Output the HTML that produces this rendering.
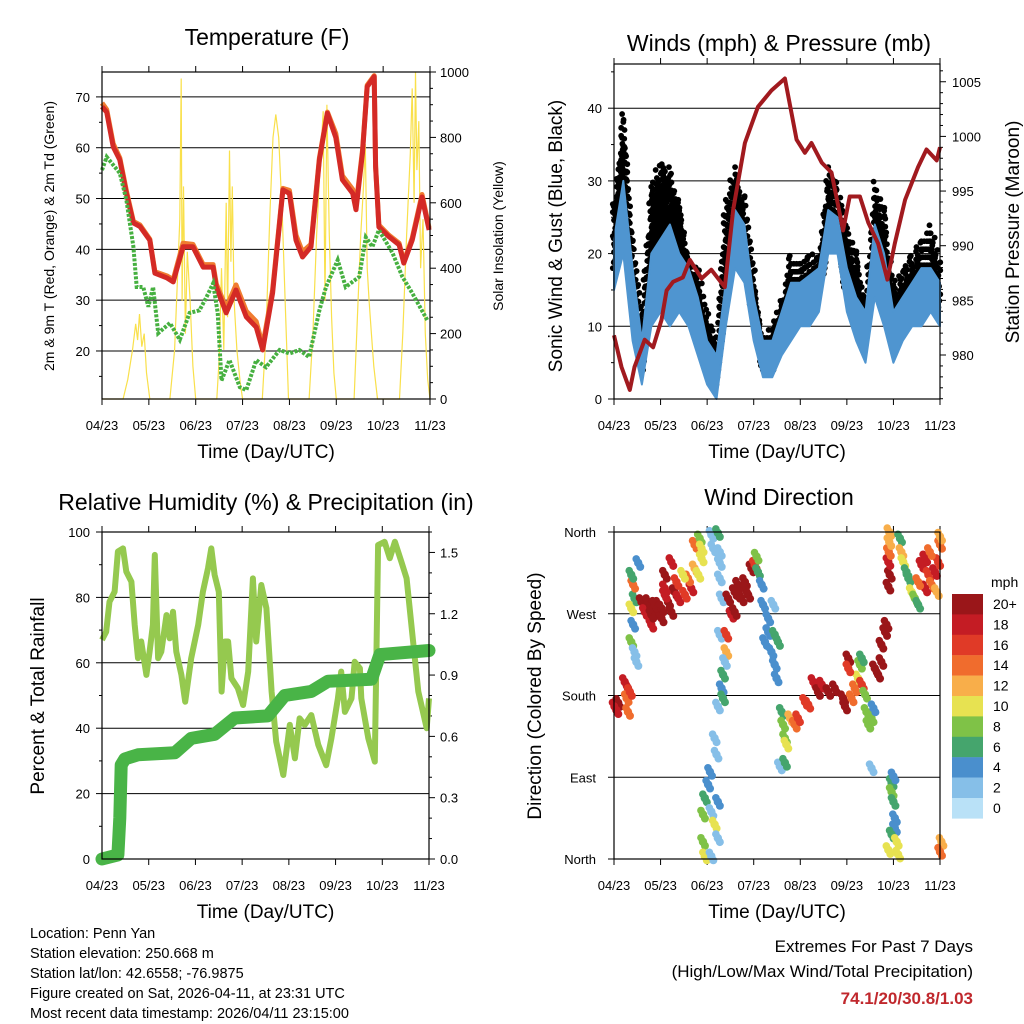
<!DOCTYPE html>
<html><head><meta charset="utf-8"><style>
html,body{margin:0;padding:0;background:#fff;}
svg{display:block;font-family:"Liberation Sans",sans-serif;}
</style></head><body>
<svg id="c" width="1024" height="1024" viewBox="0 0 1024 1024"></svg>
<script>
// ---------- DATA ----------
const tempDays=[0,0.10,0.24,0.38,0.52,0.67,0.81,1.02,1.13,1.38,1.52,1.73,1.94,2.16,2.37,2.44,2.65,2.86,3.08,3.29,3.43,3.64,3.86,4.0,4.14,4.28,4.46,4.64,4.81,4.99,5.13,5.35,5.42,5.56,5.66,5.81,5.84,5.91,6.12,6.34,6.44,6.62,6.83,6.98];
const tempRed=[68.1,67,60.2,57.6,51,45.2,44.5,41.8,35.3,34.4,33.6,40.5,40.5,36.5,36.5,32.6,27.5,32,26.7,24.7,20.2,31.4,51.7,51,41.8,38.5,40.5,57.6,66.8,62,53.7,51,47.8,59,72,74,56.2,44.4,42.5,40.9,37.3,41.8,50.3,43.8];
const tempOrange=[68.8,67.5,60.8,58,51.5,45.5,44.8,42,35.6,34.8,34,41.2,41,37,37,33.2,28.5,33,27.8,25.8,21,32,52,51.6,42.8,39.5,41,58,67,62.8,54.5,51.8,48.5,59.5,72.3,74.2,56.5,44.8,42.8,41.2,37.6,42.2,50.8,44.2];
const dewDays=[0,0.10,0.38,0.52,0.67,0.74,0.88,0.99,1.09,1.2,1.45,1.66,1.87,2.08,2.23,2.37,2.47,2.55,2.72,2.94,3.08,3.29,3.5,3.79,4.0,4.21,4.42,4.64,4.78,5.03,5.2,5.49,5.63,5.77,5.91,6.2,6.41,6.62,6.94];
const dewVals=[55.6,58.2,55,49.7,40.5,32.6,32.6,28.7,32.6,23.5,25.5,22.2,27.5,28,30.6,33.3,27.5,14.2,18.2,12.9,12.3,18.2,16.8,20.2,19.5,20.2,18.8,28,32.6,37.9,32.6,34.6,42.4,40.5,43.8,39.3,34.6,31.4,26.1];
const solarDays=[0,0.45,0.55,0.65,0.72,0.76,0.8,0.85,0.9,0.95,1.02,1.45,1.55,1.62,1.66,1.69,1.71,1.74,1.78,1.82,1.88,1.94,2.0,2.45,2.5,2.55,2.6,2.65,2.68,2.72,2.75,2.78,2.82,2.88,2.95,3.0,3.42,3.5,3.58,3.65,3.71,3.77,3.85,3.92,3.98,4.42,4.5,4.58,4.65,4.72,4.76,4.8,4.85,4.9,4.95,5.0,5.38,5.45,5.52,5.58,5.62,5.66,5.7,5.75,5.8,5.88,6.35,6.42,6.5,6.58,6.62,6.66,6.69,6.72,6.76,6.8,6.85,6.9,6.95,7.0];
const solarVals=[0,0,60,150,230,180,260,160,200,80,0,0,150,400,550,980,300,650,200,450,300,100,0,0,120,400,150,600,250,760,420,650,300,150,50,0,0,200,550,800,870,800,550,250,0,0,200,500,700,880,300,900,500,250,80,0,0,250,500,650,780,400,300,200,100,0,0,200,500,750,950,600,1000,700,850,400,550,200,60,0];
const windDays=[0,0.2,0.4,0.6,0.8,1.0,1.2,1.4,1.6,1.8,2.0,2.2,2.4,2.6,2.8,3.0,3.2,3.4,3.6,3.8,4.0,4.2,4.4,4.6,4.8,5.0,5.2,5.4,5.6,5.8,6.0,6.2,6.4,6.6,6.8,7.0];
const windLo=[15,20,8,2,10,12,10,12,10,6,2,0,10,18,16,8,3,3,6,8,10,10,12,20,20,12,8,5,14,10,5,8,10,10,12,10];
const windHi=[22,30,18,8,20,22,24,20,18,14,8,6,16,26,24,14,8,8,12,16,16,17,18,26,25,18,14,12,24,20,12,14,16,18,18,16];
const gustVals=[27,40,22,12,30,33,32,28,20,18,12,8,28,32,28,18,9,10,14,20,19,20,20,32,30,24,20,14,30,26,16,18,20,22,24,19];
const presDays=[0,0.16,0.34,0.44,0.66,0.84,1.02,1.13,1.27,1.48,1.63,1.88,2.09,2.38,2.56,2.81,3.09,3.38,3.67,3.92,4.1,4.24,4.46,4.67,4.92,5.06,5.28,5.46,5.67,5.87,6.03,6.25,6.53,6.71,6.93,7.0];
const presVals=[981.8,978.9,976.8,978.9,981.4,980.7,983.2,985.9,986.7,987.1,988.7,987,987.8,986.2,993.3,999.4,1002.7,1004.2,1005.3,999.7,998.5,999.4,997.6,996.7,991.4,994.5,994.5,992.1,990.2,986.9,990.2,994.2,997.2,998.8,997.8,999];
const rhDays=[0,0.09,0.16,0.27,0.34,0.45,0.52,0.63,0.70,0.77,0.84,0.95,1.02,1.09,1.13,1.20,1.27,1.38,1.45,1.52,1.59,1.70,1.78,1.91,2.06,2.16,2.27,2.34,2.41,2.50,2.56,2.63,2.70,2.77,2.91,3.02,3.13,3.23,3.30,3.41,3.52,3.63,3.73,3.88,4.02,4.13,4.23,4.34,4.48,4.63,4.80,4.91,5.05,5.12,5.20,5.34,5.41,5.52,5.55,5.70,5.84,5.91,6.05,6.16,6.27,6.41,6.52,6.66,6.77,6.95,7.0];
const rhVals=[67,69.5,78.7,81.7,94,95,87.9,84.8,71.6,61.4,66.5,56.3,63.4,71.6,93,61.4,63.4,74.6,67.5,75.6,63.4,56.3,48.1,61.4,71.6,81.7,88.9,95,86.9,81.7,51.2,66.5,66.5,55.3,52.2,47.1,57.3,85.8,66.5,83.8,76.7,51.2,35.9,25.7,41,30.8,43,41,44,34.9,28.7,36.9,49.1,57.3,45,49.1,60.3,58.3,49.1,36.9,29.8,96,97,92,97,90.9,85.8,66.5,51.2,40,49.1];
const precipDays=[0,0.34,0.38,0.41,0.49,0.77,1.56,1.91,2.41,2.84,3.55,3.91,4.48,4.84,5.77,5.95,7.0];
const precipVals=[0,0.02,0.2,0.46,0.49,0.51,0.52,0.59,0.61,0.69,0.70,0.80,0.82,0.87,0.88,1.0,1.02];
const dirDays=[];const dirVals=[];const dirSpeeds=[];
const dirRaw=[[30,545,18],[40,535,19],[35,555,17],[60,470,17],[70,490,18],[65,520,14],[70,560,13],[75,500,16],[80,350,8],[85,300,4],[90,380,2],[95,410,2],[80,250,10],[90,220,6],[85,180,14],[80,150,6],[100,115,4],[110,230,19],[130,250,19],[150,260,19],[170,280,19],[140,300,18],[160,240,20],[190,230,19],[200,260,20],[120,260,18],[180,210,18],[210,200,20],[220,220,18],[240,210,16],[260,190,18],[250,160,14],[270,130,12],[280,150,10],[235,150,10],[270,60,13],[285,40,8],[290,70,10],[180,150,20],[200,110,18],[215,170,16],[180,190,18],[290,100,10],[130,230,20],[150,240,20],[140,270,20],[170,250,19],[320,30,2],[340,25,6],[325,70,2],[345,80,2],[345,115,1],[345,160,1],[350,220,2],[345,330,1],[365,330,16],[365,380,12],[360,410,2],[355,450,6],[350,490,4],[355,520,6],[340,545,1],[330,640,2],[335,690,1],[315,740,4],[310,780,4],[300,820,6],[295,870,8],[320,860,2],[330,900,10],[340,940,2],[295,950,8],[300,995,10],[320,995,1],[340,830,4],[370,220,20],[390,200,20],[400,180,20],[420,170,20],[440,130,19],[430,210,20],[380,270,18],[390,260,19],[410,220,20],[420,190,20],[400,210,20],[450,120,16],[455,95,7],[460,140,5],[470,180,4],[475,240,4],[490,280,4],[505,240,2],[490,320,4],[510,330,6],[520,350,6],[480,350,3],[500,380,4],[510,420,4],[515,460,4],[530,560,6],[535,600,8],[540,640,8],[545,660,10],[555,580,12],[570,600,14],[580,580,16],[600,530,15],[610,540,16],[625,470,17],[640,500,19],[650,480,18],[670,500,20],[690,490,20],[715,520,20],[720,545,20],[740,520,13],[750,490,14],[760,460,10],[770,480,15],[765,420,8],[770,400,6],[780,510,8],[785,560,8],[790,600,8],[800,580,7],[805,550,4],[800,730,2],[525,725,2],[540,715,6],[730,400,20],[730,430,16],[810,430,20],[820,450,19],[830,410,20],[830,360,19],[840,320,20],[845,300,20],[850,185,20],[855,150,19],[850,110,18],[852,80,14],[853,50,12],[853,20,12],[885,40,6],[890,80,12],[895,110,10],[905,140,6],[910,160,6],[920,200,10],[930,220,8],[940,240,6],[950,120,18],[960,100,18],[970,150,16],[980,180,14],[990,140,18],[1000,110,16],[1005,60,14],[1005,35,12],[995,200,12],[960,190,18],[975,80,14],[940,170,14],[860,775,6],[865,755,4],[860,800,8],[865,830,6],[870,880,4],[870,910,4],[860,930,6],[875,950,10],[880,990,10],[850,975,10],[1010,950,12],[1005,980,14]];
dirRaw.forEach(r=>{dirDays.push(Math.round((r[0]-28)/139.6*100)/100);dirVals.push(Math.round(360*(1003-r[1])/982));dirSpeeds.push(r[2]);});
const xTickLabels=["04/23","05/23","06/23","07/23","08/23","09/23","10/23","11/23"];
const speedColors=["#b9e1f7","#86bfe8","#4a8fcd","#45a56d","#7fc247","#e7e251","#f8ae4a","#f06c2d","#e03a27","#c41c24","#9a1619"];
const speedLabels=["0","2","4","6","8","10","12","14","16","18","20+"];

// ---------- helpers ----------
const svg=document.getElementById('c');const NS="http://www.w3.org/2000/svg";
function mk(tag,attrs,parent){const e=document.createElementNS(NS,tag);for(const k in attrs)e.setAttribute(k,attrs[k]);(parent||svg).appendChild(e);return e;}
function txt(s,x,y,size,anchor,parent,extra){const t=mk('text',Object.assign({x:x,y:y,'font-size':size,'text-anchor':anchor||'middle',fill:'#000'},extra||{}),parent);t.textContent=s;return t;}
function lin(d0,d1,r0,r1){return v=>r0+(v-d0)/(d1-d0)*(r1-r0);}

function frame(name,x0,x1,y0,y1,title,tx,ty,xlabY){
  const g=mk('g',{});
  const tt=txt(title,tx,ty,23,'middle',g);
  const xs=lin(0,7,x0,x1);
  for(let i=0;i<8;i++){const x=xs(i);mk('line',{x1:x,x2:x,y1:y1,y2:y1+6,stroke:'#000'},g);mk('line',{x1:x,x2:x,y1:y0,y2:y0-6,stroke:'#000'},g);
    const l=txt(xTickLabels[i],x,xlabY,13,'middle',g);}
  const xt=txt('Time (Day/UTC)',(x0+x1)/2,xlabY+28,19,'middle',g);
  return {g,xs};
}
function border(g,x0,x1,y0,y1){mk('rect',{x:x0,y:y0,width:x1-x0,height:y1-y0,fill:'none',stroke:'#000','stroke-width':1.2},g);}
function path(xsA,ysA,xs,ys){return xsA.map((d,i)=>(i?'L':'M')+xs(d).toFixed(1)+','+ys(ysA[i]).toFixed(1)).join('');}
function vtitle(s,x,y,size,g,name){const t=txt(s,x,y,size,'middle',g,{transform:'rotate(-90 '+x+' '+y+')'});}

// ---------- Panel 1: Temperature ----------
(function(){
 const x0=102,x1=430,y0=72,y1=399;
 const f=frame('temperature-panel',x0,x1,y0,y1,'Temperature (F)',267,45,430);const g=f.g,xs=f.xs;
 const ys=lin(10.55,74.9,y1,y0), yr=lin(0,1000,y1,y0);
 [20,30,40,50,60,70].forEach(v=>{mk('line',{x1:x0,x2:x1,y1:ys(v),y2:ys(v),stroke:'#000','stroke-width':1},g);mk('line',{x1:x0-6,x2:x0,y1:ys(v),y2:ys(v),stroke:'#000'},g);
   const l=txt(String(v),x0-12,ys(v)+5,13,'end',g);});
 [15,25,35,45,55,65].forEach(v=>mk('line',{x1:x0-3,x2:x0,y1:ys(v),y2:ys(v),stroke:'#000'},g));
 for(let v=0;v<=1000;v+=50){mk('line',{x1:x1,x2:x1+(v%200?3:6),y1:yr(v),y2:yr(v),stroke:'#000'},g);}
 [0,200,400,600,800,1000].forEach(v=>{const l=txt(String(v),x1+10,yr(v)+5,13,'start',g);});
 const s=mk('path',{d:path(solarDays,solarVals,xs,yr),fill:'none',stroke:'#f9e04b','stroke-width':1.2},g);
 const o=mk('path',{d:path(tempDays,tempOrange,xs,ys),fill:'none',stroke:'#f07c30','stroke-width':5,'stroke-linejoin':'round'},g);
 const r=mk('path',{d:path(tempDays,tempRed,xs,ys),fill:'none',stroke:'#d42a26','stroke-width':5,'stroke-linejoin':'round'},g);
 const d=mk('path',{d:path(dewDays,dewVals,xs,ys),fill:'none',stroke:'#46b040','stroke-width':4,'stroke-dasharray':'3 1.5'},g);
 border(g,x0,x1,y0,y1);
 vtitle('2m & 9m T (Red, Orange) & 2m Td (Green)',54,236,14,g,'left-axis-title');
 vtitle('Solar Insolation (Yellow)',503,236,14,g,'right-axis-title');
})();

// ---------- Panel 2: Winds ----------
(function(){
 const x0=614,x1=940,y0=64,y1=399;
 const f=frame('winds-panel',x0,x1,y0,y1,'Winds (mph) & Pressure (mb)',779,51,430);const g=f.g,xs=f.xs;
 const ys=lin(0,46.08,y1,y0), yp=lin(980,1005,355,81.75);
 [10,20,30,40].forEach(v=>mk('line',{x1:x0,x2:x1,y1:ys(v),y2:ys(v),stroke:'#000'},g));
 [0,10,20,30,40].forEach(v=>{mk('line',{x1:x0-6,x2:x0,y1:ys(v),y2:ys(v),stroke:'#000'},g);const l=txt(String(v),x0-12,ys(v)+5,13,'end',g);});
 [5,15,25,35,45].forEach(v=>mk('line',{x1:x0-3,x2:x0,y1:ys(v),y2:ys(v),stroke:'#000'},g));
 for(let v=976;v<=1006;v++){mk('line',{x1:x1,x2:x1+(v%5?3:6),y1:yp(v),y2:yp(v),stroke:'#000'},g);}
 [980,985,990,995,1000,1005].forEach(v=>{const l=txt(String(v),x1+12,yp(v)+5,13,'start',g);});
 const gg=mk('g',{},g);
 for(let i=0;i<windDays.length-1;i++){
  for(let k=0;k<10;k++){
   const t=k/10;
   const d=windDays[i]+(windDays[i+1]-windDays[i])*t;
   const hi=windHi[i]+(windHi[i+1]-windHi[i])*t, gu=gustVals[i]+(gustVals[i+1]-gustVals[i])*t;
   const top=gu-(k%3)*1.5;
   for(let v=hi-4;v<=top;v+=1.1){mk('circle',{cx:xs(d)+((k+Math.round(v*2))%3-1)*1.2,cy:ys(v),r:2.9,fill:'#000'},gg);}
  }
 }
 let pts=windDays.map((d,i)=>xs(d).toFixed(1)+','+ys(windHi[i]).toFixed(1));
 pts=pts.concat(windDays.map((d,i)=>xs(d).toFixed(1)+','+ys(windLo[i]).toFixed(1)).reverse());
 const b=mk('polygon',{points:pts.join(' '),fill:'#4f95d0',stroke:'#4f95d0','stroke-width':2,'stroke-linejoin':'round'},g);
 const p=mk('path',{d:path(presDays,presVals,xs,yp),fill:'none',stroke:'#a11a1f','stroke-width':4,'stroke-linejoin':'round'},g);
 border(g,x0,x1,y0,y1);
 vtitle('Sonic Wind & Gust (Blue, Black)',562,236,19,g,'left-axis-title');
 vtitle('Station Pressure (Maroon)',1019,232,19,g,'right-axis-title');
})();

// ---------- Panel 3: RH & Precip ----------
(function(){
 const x0=102,x1=429,y0=532,y1=859;
 const f=frame('humidity-panel',x0,x1,y0,y1,'Relative Humidity (%) & Precipitation (in)',266,510,890);const g=f.g,xs=f.xs;
 const ys=lin(0,100,y1,y0), yr=lin(0,1.6,y1,y0);
 [20,40,60,80].forEach(v=>mk('line',{x1:x0,x2:x1,y1:ys(v),y2:ys(v),stroke:'#000'},g));
 [0,20,40,60,80,100].forEach(v=>{mk('line',{x1:x0-6,x2:x0,y1:ys(v),y2:ys(v),stroke:'#000'},g);const l=txt(String(v),x0-12,ys(v)+5,13,'end',g);});
 [10,30,50,70,90].forEach(v=>mk('line',{x1:x0-3,x2:x0,y1:ys(v),y2:ys(v),stroke:'#000'},g));
 for(let v=0;v<=1.6001;v+=0.1){mk('line',{x1:x1,x2:x1+(Math.round(v*10)%3?3:6),y1:yr(v),y2:yr(v),stroke:'#000'},g);}
 ["0.0","0.3","0.6","0.9","1.2","1.5"].forEach(s=>{const v=parseFloat(s);const l=txt(s,x1+11,yr(v)+5,13,'start',g);});
 const rh=mk('path',{d:path(rhDays,rhVals,xs,ys),fill:'none',stroke:'#95c94f','stroke-width':6,'stroke-linejoin':'round'},g);
 const pr=mk('path',{d:path(precipDays,precipVals,xs,yr),fill:'none',stroke:'#49b447','stroke-width':13,'stroke-linejoin':'round','stroke-linecap':'round'},g);
 border(g,x0,x1,y0,y1);
 vtitle('Percent & Total Rainfall',44,696,19,g,'left-axis-title');
})();

// ---------- Panel 4: Wind direction ----------
(function(){
 const x0=614,x1=940,y0=532,y1=859;
 const f=frame('wind-direction-panel',x0,x1,y0,y1,'Wind Direction',779,505,890);const g=f.g,xs=f.xs;
 const ys=lin(0,360,y1,y0);
 [90,180,270].forEach(v=>mk('line',{x1:x0,x2:x1,y1:ys(v),y2:ys(v),stroke:'#000'},g));
 const names=['North','East','South','West','North'];
 [0,90,180,270,360].forEach((v,i)=>{mk('line',{x1:x0-6,x2:x0,y1:ys(v),y2:ys(v),stroke:'#000'},g);const l=txt(names[i],x0-18,ys(v)+5,13,'end',g);});
 const dg=mk('g',{},g);
 dirDays.forEach((d,i)=>{const c=speedColors[Math.min(10,Math.round(dirSpeeds[i]/2))];
  mk('circle',{cx:xs(d),cy:ys(dirVals[i]),r:4.2,fill:c},dg);mk('circle',{cx:xs(d)+2,cy:ys(dirVals[i])+4,r:4,fill:c},dg);mk('circle',{cx:xs(d)-2,cy:ys(dirVals[i])-4,r:3.8,fill:c},dg);});
 border(g,x0,x1,y0,y1);
 vtitle('Direction (Colored By Speed)',541,696,19,g,'left-axis-title');
 const lg=mk('g',{});
 const mt=txt('mph',991,587,14,'start',lg);
 for(let i=0;i<11;i++){const y=594+i*20.4;const idx=10-i;
  mk('rect',{x:952,y:y,width:31,height:20.6,fill:speedColors[idx]},lg);
  const l=txt(speedLabels[idx],993,y+15,14,'start',lg);}
})();

// ---------- Footer text ----------
const info=["Location: Penn Yan","Station elevation: 250.668 m","Station lat/lon: 42.6558; -76.9875","Figure created on Sat, 2026-04-11, at 23:31 UTC","Most recent data timestamp: 2026/04/11 23:15:00"];
info.forEach((s,i)=>{const t=txt(s,30,938+i*20,14.5,'start');});
const e1=txt('Extremes For Past 7 Days',973,952,17,'end');
const e2=txt('(High/Low/Max Wind/Total Precipitation)',973,977,17,'end');
const e3=txt('74.1/20/30.8/1.03',973,1004,17,'end',null,{fill:'#c0282d','font-weight':'bold'});
</script>
</body></html>
